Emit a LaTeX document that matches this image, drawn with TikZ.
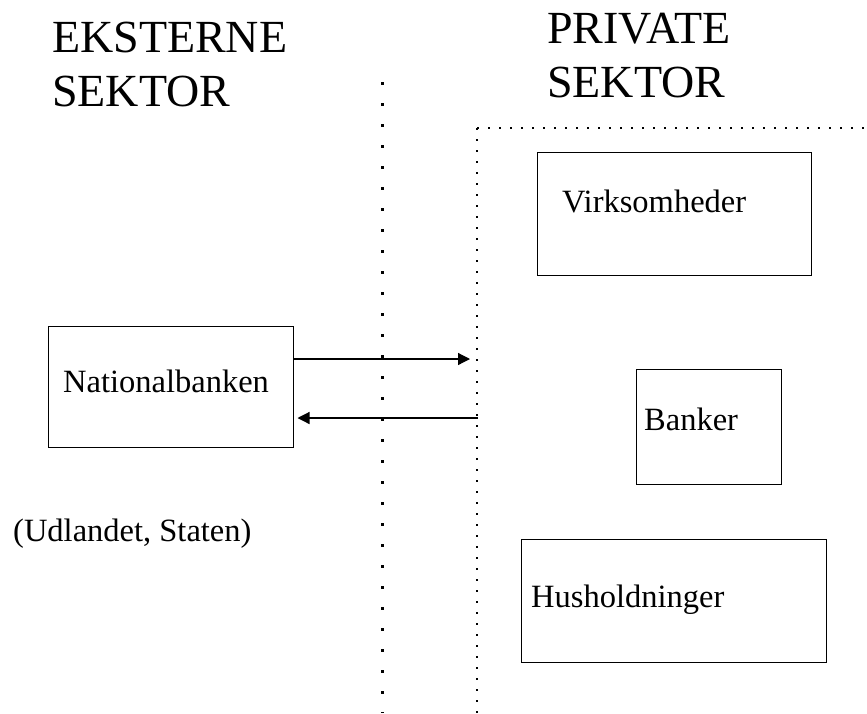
\documentclass[tikz,border=0pt]{standalone}
\usepackage{fontspec}
\setmainfont{Liberation Serif}
\usetikzlibrary{arrows.meta}

\begin{document}
\begin{tikzpicture}[x=1pt, y=-1pt,
  sektor/.style={inner sep=0, align=left, anchor=base west, font=\fontsize{46}{53.5}\selectfont},
  boks/.style={draw, line width=1pt, inner sep=0, rectangle},
  tekst/.style={inner sep=0, anchor=base west, font=\fontsize{32.5}{39}\selectfont},
  graense/.style={line width=3pt, dash pattern=on 3pt off 18pt},
  privat/.style={line width=1.5pt, dash pattern=on 1.5pt off 9.5pt},
  >={Triangle[length=12pt, width=12pt]}]

\useasboundingbox (0,0) rectangle (867,713);

% base = sidste linje
\node[sektor] (ekst) at (52,106) {EKSTERNE\\SEKTOR};
\node[sektor] (priv) at (547,97) {PRIVATE\\SEKTOR};

\node[boks, minimum width=245, minimum height=121] (nb) at (170.5,386.5) {};
\node[boks, minimum width=274, minimum height=123] (virk) at (674,213.5) {};
\node[boks, minimum width=145, minimum height=115] (bank) at (708.5,426.5) {};
\node[boks, minimum width=305, minimum height=123] (hus) at (673.5,600.5) {};

\node[tekst] (nbt) at (63,392) {Nationalbanken};
\node[tekst] (virkt) at (562,212) {Virksomheder};
\node[tekst] (bankt) at (644,430) {Banker};
\node[tekst] (hust) at (531,607) {Husholdninger};
\node[tekst] (udl) at (13,541) {(Udlandet, Staten)};

% skillelinjer
\coordinate (g1) at (382,82);
\coordinate (g2) at (382,713);
\coordinate (hj) at (477,128);
\coordinate (h1) at (867,128);
\coordinate (h2) at (477,713);
\draw[graense] (g1) -- (g2);
\draw[privat] (hj) -- (h1);
\draw[privat] (hj) -- (h2);

% strømme
\coordinate (ind) at (470,359);
\coordinate (ud) at (478,418);
\draw[->, line width=1.2pt] (nb.east |- ind) -- (ind);
\draw[->, line width=1.2pt, shorten >=4pt] (ud) -- (nb.east |- ud);
\end{tikzpicture}
\end{document}
